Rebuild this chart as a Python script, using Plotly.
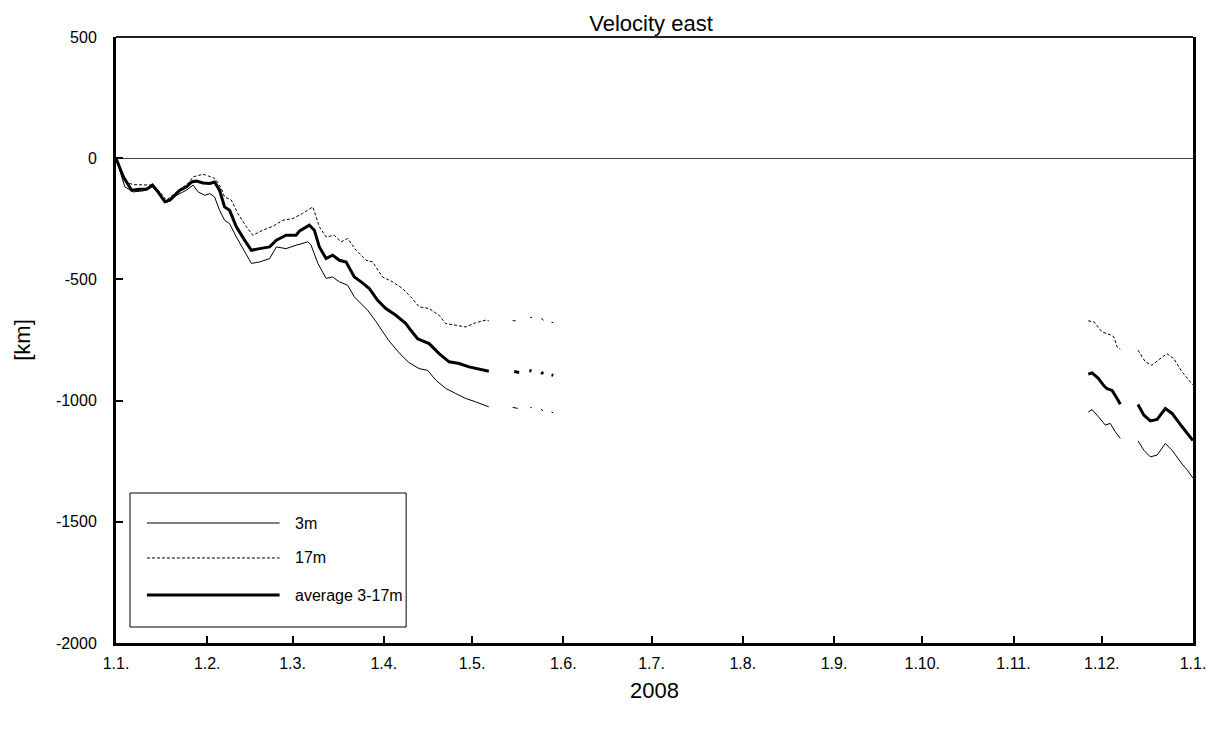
import pandas as pd
import plotly.graph_objects as go

# ---------------- data (day offsets from 2008-01-01, values in km) ----------------
series_names = ["3m", "17m", "average 3-17m"]

days_3m = [0, 3, 5.9, 9.2, 12.4, 14.9, 17.1, 20.6, 23.9, 26.2, 27.9, 30.2, 31.9, 33.5, 35.2, 36.9, 38.6,
           40.9, 43.1, 46, 48.8, 52.2, 54.5, 57.8, 61.2, 63.4, 65.2, 66.3, 68.6, 71.4, 73.6, 75.9, 78.7,
           81, 83.3, 85.5, 88.4, 90, 92.6, 96, 99.4, 103, 105.9, 108.7, 112.1, 115.5, 118.8, 122.2, 126.7,
           None, 134.8, 136.5, None, 140.8, 141.3, None, 144.4, 145.1, None, 148, 148.6, None,
           330.4, 331.7, 333.9, 336.2, 337.9, 339.6, 341.3, None,
           347.3, 349.3, 351.5, 353.8, 356.6, 358.9, 362.3, 364.1, 366]
vals_3m = [0, -118, -139, -135, -118, -153, -184, -153, -132, -111, -139, -153, -146, -160, -215, -256, -270,
           -325, -373, -434, -428, -414, -366, -373, -359, -352, -345, -359, -434, -496, -490, -510, -524,
           -572, -599, -627, -675, -703, -751, -800, -842, -868, -875, -916, -950, -971, -991, -1005, -1026,
           None, -1028, -1032, None, -1029, -1029, None, -1035, -1042, None, -1047, -1051, None,
           -1047, -1037, -1067, -1101, -1094, -1129, -1156, None,
           -1166, -1205, -1232, -1225, -1177, -1205, -1262, -1287, -1320]

days_17m = [0, 3, 5.9, 9.2, 12.4, 14.9, 17.1, 20.6, 24.5, 26.2, 29.6, 33, 34.1, 35.8, 36.9, 39.2, 41.4,
            44.3, 46.5, 49.9, 53.3, 56.7, 60.1, 63.4, 66.9, 69.1, 71.4, 74.2, 76.5, 78.7, 81.6, 85, 87.2,
            90.6, 94, 97.4, 100.7, 103, 106.4, 109.8, 112, 115.5, 118.8, 122.2, 125.6, 126.7,
            None, 134.8, 136.5, None, 140.8, 141.4, None, 144.6, 145.3, None, 148, 148.6, None,
            330.4, 332.3, 335.1, 337.4, 339.1, 340.2, 341.3, None,
            347.3, 349.8, 352, 354.3, 357.1, 359.4, 362.3, 365.1, 366]
vals_17m = [0, -98, -109, -111, -111, -139, -173, -139, -104, -77, -66, -80, -91, -125, -160, -173, -228,
            -283, -318, -297, -281, -256, -249, -228, -201, -283, -325, -318, -345, -331, -380, -421, -428,
            -490, -510, -538, -579, -613, -620, -648, -682, -689, -696, -679, -668, -671,
            None, -670, -672, None, -657, -656, None, -660, -670, None, -677, -678, None,
            -671, -675, -717, -726, -737, -778, -789, None,
            -792, -840, -854, -831, -806, -826, -882, -923, -935]

days_avg = [0, 2.5, 5.3, 8.1, 10.4, 12.4, 14.3, 16.6, 18.3, 21.7, 24, 25.7, 27.3, 29.6, 31.9, 33.5, 35.2,
            36.9, 38.6, 40.9, 43.7, 46, 48.8, 52.2, 54.5, 57.8, 61.2, 62.4, 65.7, 67.4, 69.1, 71.4, 73.6,
            75.9, 78.2, 81, 83.3, 86.1, 88.9, 91.7, 95.1, 98.5, 100.2, 102.5, 106.4, 109.8, 113.2, 116.6,
            120, 123.3, 126.7,
            None, 135.3, 137, None, 140.5, 141.2, None, 144.5, 145.2, None, 148, 148.6, None,
            330.4, 331.7, 333.9, 335.6, 336.8, 338.5, 340.2, 341.3, None,
            347.3, 349.3, 351.5, 353.8, 356.6, 358.9, 362.3, 366]
vals_avg = [0, -77, -132, -128, -128, -111, -139, -180, -173, -132, -118, -98, -94, -102, -104, -98, -132,
            -201, -215, -283, -338, -380, -373, -366, -338, -318, -318, -300, -276, -297, -366, -414, -400,
            -421, -428, -490, -510, -538, -586, -620, -648, -682, -710, -745, -765, -806, -840, -847,
            -861, -870, -879,
            None, -880, -884, None, -876, -878, None, -883, -890, None, -894, -896, None,
            -891, -886, -909, -937, -951, -958, -991, -1015, None,
            -1016, -1060, -1084, -1078, -1033, -1053, -1108, -1165]

tick_dates = ["2008-01-01", "2008-02-01", "2008-03-01", "2008-04-01", "2008-05-01", "2008-06-01",
              "2008-07-01", "2008-08-01", "2008-09-01", "2008-10-01", "2008-11-01", "2008-12-01",
              "2009-01-01"]
tick_labels = ["1.1.", "1.2.", "1.3.", "1.4.", "1.5.", "1.6.", "1.7.", "1.8.", "1.9.", "1.10.",
               "1.11.", "1.12.", "1.1."]
y_ticks = [-2000, -1500, -1000, -500, 0, 500]
y_tick_labels = ["-2000", "-1500", "-1000", "-500", "0", "500"]

# ---------------- build ----------------
base = pd.Timestamp("2008-01-01")


def to_dates(days):
    out = []
    for d in days:
        if d is None:
            out.append(None)
        else:
            out.append((base + pd.Timedelta(days=d)).strftime("%Y-%m-%d %H:%M:%S"))
    return out


FONT = "Arial, 'Liberation Sans', sans-serif"
styles = [
    dict(color="black", width=1, dash="solid"),
    dict(color="black", width=1, dash="3px,2px"),
    dict(color="black", width=3, dash="solid"),
]

fig = go.Figure()
for name, d, v, st in zip(series_names, [days_3m, days_17m, days_avg], [vals_3m, vals_17m, vals_avg], styles):
    fig.add_trace(go.Scatter(x=to_dates(d), y=v, mode="lines", name=name, line=st,
                             connectgaps=False, showlegend=False))

# custom legend (long line samples as in the original)
leg_x0, leg_x1, leg_y0, leg_y1 = 0.013, 0.2694, 0.0264, 0.2475
leg_rows = [0.198, 0.1403, 0.0792]
shapes = [dict(type="rect", xref="paper", yref="paper", x0=leg_x0, x1=leg_x1, y0=leg_y0, y1=leg_y1,
               line=dict(color="black", width=1), fillcolor="white", layer="above"),
          dict(type="line", xref="paper", yref="paper", x0=0, x1=1, y0=1, y1=1,
               line=dict(color="#222", width=2))]
annotations = []
for name, st, yy in zip(series_names, styles, leg_rows):
    shapes.append(dict(type="line", xref="paper", yref="paper", x0=0.0287, x1=0.1519, y0=yy, y1=yy,
                       line=dict(color=st["color"], width=st["width"], dash=st["dash"]), layer="above"))
    annotations.append(dict(xref="paper", yref="paper", x=0.1640, y=yy, text=name, showarrow=False,
                            xanchor="left", yanchor="middle", font=dict(family=FONT, size=16, color="black")))

# page body has an 8px margin: figure is sized so the plot box lands at x 116-1196, y 37-643
fig.update_layout(
    width=1210, height=717,
    margin=dict(l=108, r=22, t=29, b=82),
    paper_bgcolor="white", plot_bgcolor="white",
    font=dict(family=FONT, color="black", size=16),
    title=dict(text="Velocity east", x=(651 - 8) / 1210, xanchor="center", y=1 - 15 / 717, yanchor="middle",
               yref="container", font=dict(family=FONT, size=22, color="black")),
    shapes=shapes, annotations=annotations,
    showlegend=False,
)
fig.update_xaxes(
    type="date", range=["2008-01-01", "2009-01-01"],
    tickmode="array", tickvals=tick_dates, ticktext=tick_labels,
    ticks="inside", ticklen=7, tickwidth=2, tickcolor="black",
    showline=True, linewidth=3, linecolor="black", mirror=False,
    showgrid=False, zeroline=False,
    tickfont=dict(family=FONT, size=16, color="black"), ticklabelstandoff=4,
    title=dict(text="2008", font=dict(family=FONT, size=22, color="black"), standoff=12),
)
fig.update_yaxes(
    range=[-2000, 500], tickmode="array", tickvals=y_ticks, ticktext=y_tick_labels,
    ticks="inside", ticklen=7, tickwidth=2, tickcolor="black",
    showline=True, linewidth=3, linecolor="black", mirror=True,
    showgrid=False, zeroline=True, zerolinecolor="#444", zerolinewidth=1,
    tickfont=dict(family=FONT, size=16, color="black"), ticklabelstandoff=13,
    title=dict(text="[km]", font=dict(family=FONT, size=22, color="black"), standoff=20),
)

fig.write_html("out.html")
